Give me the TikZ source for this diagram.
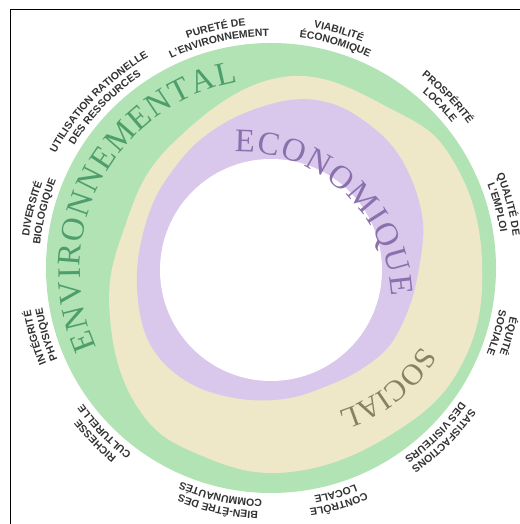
\documentclass[tikz,border=0pt]{standalone}
\usepackage{fontspec}
\setmainfont{Liberation Serif}
\setsansfont{Liberation Sans}
\usetikzlibrary{decorations.text}
\definecolor{ringgreen}{RGB}{178,227,181}
\definecolor{ringyellow}{RGB}{238,232,201}
\definecolor{ringpurple}{RGB}{218,199,236}
\definecolor{envtext}{RGB}{78,158,108}
\definecolor{ecotext}{RGB}{138,112,172}
\definecolor{soctext}{RGB}{135,128,100}
\definecolor{lbltext}{RGB}{50,50,50}
\newcommand\lblfont{\sffamily\bfseries\fontsize{10.5}{11}\selectfont\color{lbltext}}
\newcommand\bigfont{\rmfamily\fontsize{33}{33}\selectfont}
\newcommand\ringlabel[3]{%
  \path[shift={(L)}, decorate, decoration={text along path, text align=center, text={|\lblfont|#2}}]
    (#1+45:244) arc[start angle=#1+45, end angle=#1-45, radius=244];
  \path[shift={(L)}, decorate, decoration={text along path, text align=center, text={|\lblfont|#3}}]
    (#1+45:232) arc[start angle=#1+45, end angle=#1-45, radius=232];
}
\tikzset{
  frameline/.style={line width=1.6bp, black},
}
\begin{document}
\begin{tikzpicture}[x=1bp,y=1bp]
\useasboundingbox (0,0) rectangle (520,524);
\fill[white] (0,0) rectangle (520,524);
\coordinate (G) at (271,256);
\coordinate (W) at (271,254);
\coordinate (L) at (271,256);
\coordinate (E) at (271,254);
\coordinate (K) at (240,220);
\coordinate (S) at (297,251);
\coordinate (TL) at (10.5,514.5);
\coordinate (TR) at (520,514.5);
\coordinate (BL) at (10.5,0);
% frame
\draw[frameline] (TR) -- (TL) -- (BL);
% rings
\fill[ringgreen] (G) circle[radius=225];
\fill[ringyellow] plot[smooth cycle, tension=0.7] coordinates {
 (283,447) (395,413) (455,360) (482,262) (462,160) (392,90)
 (290,52) (200,69) (138,116) (110,206) (123,292) (172,380)};
\fill[ringpurple] plot[smooth cycle, tension=0.6] coordinates {
 (290,424) (330,421) (363,404) (393,377) (413,341) (423,301) (420,262)
 (410,219) (390,179) (360,154) (327,138) (290,126) (250,124) (210,132)
 (180,147) (157,169) (143,197) (137,237) (140,277) (153,321) (173,354)
 (200,384) (240,409)};
\fill[white] (W) circle[radius=111];
% big words
\path[shift={(E)}, decorate, decoration={text along path, text align={fit to path},
  text={|\bigfont\color{envtext}|ENVIRONNEMENTAL}}]
  (204:191) arc[start angle=204, end angle=100, radius=191];
\path[shift={(K)}, decorate, decoration={text along path, text align={fit to path},
  text={|\bigfont\color{ecotext}|ECONOMIQUE}}]
  (92:152) arc[start angle=92, end angle=3, radius=152];
\path[shift={(S)}, decorate, decoration={text along path, text align=center,
  text={|\rmfamily\fontsize{30}{30}\selectfont\color{soctext}|SOCIAL}}]
  (-5:144) arc[start angle=-5, end angle=-99, radius=144];
% outer labels
\ringlabel{103}{PURETÉ DE}{L'ENVIRONNEMENT}
\ringlabel{74}{VIABILITÉ}{ÉCONOMIQUE}
\ringlabel{44}{PROSPÉRITÉ}{LOCALE}
\ringlabel{15}{QUALITÉ DE}{L'EMPLOI}
\ringlabel{-16}{ÉQUITÉ}{SOCIALE}
\ringlabel{-45}{SATISFACTIONS}{DES VISITEURS}
\ringlabel{-74}{CONTRÔLE}{LOCALE}
\ringlabel{-102.5}{BIEN-ÊTRE DES}{COMMUNAUTÉS}
\ringlabel{-135.5}{RICHESSE}{CULTURELLE}
\ringlabel{196.5}{INTÉGRITÉ}{PHYSIQUE}
\ringlabel{166}{DIVERSITÉ}{BIOLOGIQUE}
\ringlabel{136}{UTILISATION RATIONELLE}{DES RESSOURCES}
\end{tikzpicture}
\end{document}
